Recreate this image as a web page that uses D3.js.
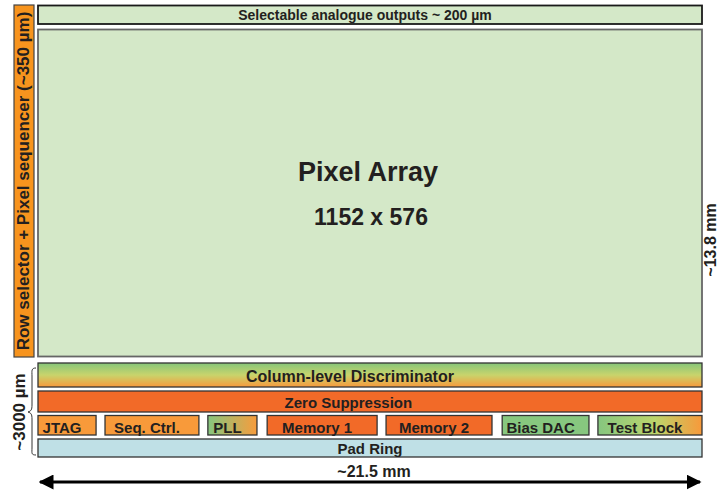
<!DOCTYPE html>
<html>
<head>
<meta charset="utf-8">
<script src="https://cdn.jsdelivr.net/npm/d3@7"></script>
<style>
  body { margin: 0; background: #fff; }
  svg text { font-family: "Liberation Sans", Arial, sans-serif; font-weight: bold; fill: #231f20; }
</style>
</head>
<body>
<div id="chart"></div>
<script>
// chip floorplan, widths in mm (total ~21.5 mm)
var chipWidth = 21.5;
var rowNames = ["Column-level Discriminator", "Zero Suppression", "Pad Ring"];
var rowLabelAt = [10.1, 10.05, 10.75];

var blockNames = ["JTAG", "Seq. Ctrl.", "PLL", "Memory 1", "Memory 2", "Bias DAC", "Test Block"];
var blockStart = [0, 2.17, 5.5, 7.42, 11.27, 15.03, 18.13];
var blockEnd   = [1.88, 5.21, 7.09, 10.98, 14.7, 17.84, 21.5];
var blockFill  = ["orange", "orange", "pll", "red", "red", "green", "test"];

var titleMain = "Pixel Array";
var titleSub = "1152 x 576";
var topLabel = "Selectable analogue outputs ~ 200 µm";
var leftLabel = "Row selector + Pixel sequencer (~350 µm)";
var heightLabel = "~13.8 mm";
var periLabel = "~3000 µm";
var widthLabel = "~21.5 mm";

var colors = {
  orange: "#f89a3a",
  red: "#f26a28",
  green: "#87c77f",
  pll: "url(#gPll)",
  test: "url(#gTest)"
};

var W = 720, H = 491;
var svg = d3.select("#chart").append("svg")
  .attr("width", W)
  .attr("height", H);

var x = d3.scaleLinear().domain([0, chipWidth]).range([38, 702]);

// gradients
var defs = svg.append("defs");
var gCol = defs.append("linearGradient").attr("id", "gCol")
  .attr("x1", 0).attr("y1", 0).attr("x2", 0).attr("y2", 1);
gCol.append("stop").attr("offset", "0%").attr("stop-color", "#86c67a");
gCol.append("stop").attr("offset", "50%").attr("stop-color", "#c8d46c");
gCol.append("stop").attr("offset", "100%").attr("stop-color", "#f8993c");

var gPll = defs.append("linearGradient").attr("id", "gPll");
gPll.append("stop").attr("offset", "0%").attr("stop-color", "#86c67f");
gPll.append("stop").attr("offset", "100%").attr("stop-color", "#f89c3c");

var gTest = defs.append("linearGradient").attr("id", "gTest");
gTest.append("stop").attr("offset", "0%").attr("stop-color", "#86c67f");
gTest.append("stop").attr("offset", "55%").attr("stop-color", "#bcd56c");
gTest.append("stop").attr("offset", "100%").attr("stop-color", "#f8993a");

defs.append("marker").attr("id", "arr")
  .attr("viewBox", "0 0 10 10").attr("refX", 9).attr("refY", 5)
  .attr("markerWidth", 5).attr("markerHeight", 5)
  .attr("markerUnits", "strokeWidth")
  .attr("orient", "auto-start-reverse")
  .append("path").attr("d", "M0,0L10,5L0,10Z").attr("fill", "#000");

// left row selector bar
svg.append("rect")
  .attr("x", 14).attr("y", 5).attr("width", 20).attr("height", 352)
  .attr("fill", "#f7941e").attr("stroke", "#444").attr("stroke-width", 1.2);
svg.append("text")
  .attr("transform", "translate(29,181) rotate(-90)")
  .attr("text-anchor", "middle")
  .style("font-size", "17px")
  .text(leftLabel);

// top analogue outputs bar
svg.append("rect")
  .attr("x", x(0)).attr("y", 5.5).attr("width", x(chipWidth) - x(0)).attr("height", 18.5)
  .attr("fill", "#d4e8c8").attr("stroke", "#1a1a1a").attr("stroke-width", 1.8);
svg.append("text")
  .attr("x", 365).attr("y", 19.5)
  .attr("text-anchor", "middle")
  .style("font-size", "14px")
  .text(topLabel);

// pixel array
svg.append("rect")
  .attr("x", x(0)).attr("y", 29.5).attr("width", x(chipWidth) - x(0)).attr("height", 327)
  .attr("fill", "#d4e8c8").attr("stroke", "#666").attr("stroke-width", 1.8);
svg.append("text")
  .attr("x", 368).attr("y", 181)
  .attr("text-anchor", "middle")
  .style("font-size", "27px")
  .text(titleMain);
svg.append("text")
  .attr("x", 371).attr("y", 225)
  .attr("text-anchor", "middle")
  .style("font-size", "23px")
  .text(titleSub);

svg.append("text")
  .attr("transform", "translate(716,240) rotate(-90)")
  .attr("text-anchor", "middle")
  .style("font-size", "16px")
  .text(heightLabel);

// periphery rows
var rowY = [363, 391, 439];
var rowH = [24, 21, 18];
var rowFill = ["url(#gCol)", "#f26a28", "#bfe0e6"];
var rowBase = [382, 407.5, 454];
var rowSize = [16, 15, 15];

svg.selectAll(".row")
  .data(rowNames)
  .enter().append("rect")
  .attr("class", "row")
  .attr("x", x(0))
  .attr("y", function(d, i) { return rowY[i]; })
  .attr("width", x(chipWidth) - x(0))
  .attr("height", function(d, i) { return rowH[i]; })
  .attr("fill", function(d, i) { return rowFill[i]; })
  .attr("stroke", "#333").attr("stroke-width", 1.3);

svg.selectAll(".rowLabel")
  .data(rowNames)
  .enter().append("text")
  .attr("class", "rowLabel")
  .attr("x", function(d, i) { return x(rowLabelAt[i]); })
  .attr("y", function(d, i) { return rowBase[i]; })
  .attr("text-anchor", "middle")
  .style("font-size", function(d, i) { return rowSize[i] + "px"; })
  .text(function(d) { return d; });

// block row
svg.selectAll(".block")
  .data(blockNames)
  .enter().append("rect")
  .attr("class", "block")
  .attr("x", function(d, i) { return x(blockStart[i]); })
  .attr("y", 415.5)
  .attr("width", function(d, i) { return x(blockEnd[i]) - x(blockStart[i]); })
  .attr("height", 19.5)
  .attr("fill", function(d, i) { return colors[blockFill[i]]; })
  .attr("stroke", "#333").attr("stroke-width", 1.3);

svg.selectAll(".blockLabel")
  .data(blockNames)
  .enter().append("text")
  .attr("class", "blockLabel")
  .attr("x", function(d, i) { return (x(blockStart[i]) + x(blockEnd[i])) / 2 - 5; })
  .attr("y", 433)
  .attr("text-anchor", "middle")
  .style("font-size", "15px")
  .text(function(d) { return d; });

// brace for periphery height
svg.append("path")
  .attr("d", "M36,368 C31,368 32,371 32,376 L32,405 C32,410 31,411 28,412 C31,413 32,414 32,419 L32,448 C32,453 31,455 36,455")
  .attr("fill", "none").attr("stroke", "#333").attr("stroke-width", 1);
svg.append("text")
  .attr("transform", "translate(25,412) rotate(-90)")
  .attr("text-anchor", "middle")
  .style("font-size", "17px")
  .text(periLabel);

// width arrow
svg.append("line")
  .attr("x1", x(0) + 2).attr("x2", x(chipWidth) - 2)
  .attr("y1", 482).attr("y2", 482)
  .attr("stroke", "#000").attr("stroke-width", 3)
  .attr("marker-start", "url(#arr)").attr("marker-end", "url(#arr)");
svg.append("text")
  .attr("x", 374).attr("y", 477)
  .attr("text-anchor", "middle")
  .style("font-size", "16px")
  .text(widthLabel);
</script>
</body>
</html>
